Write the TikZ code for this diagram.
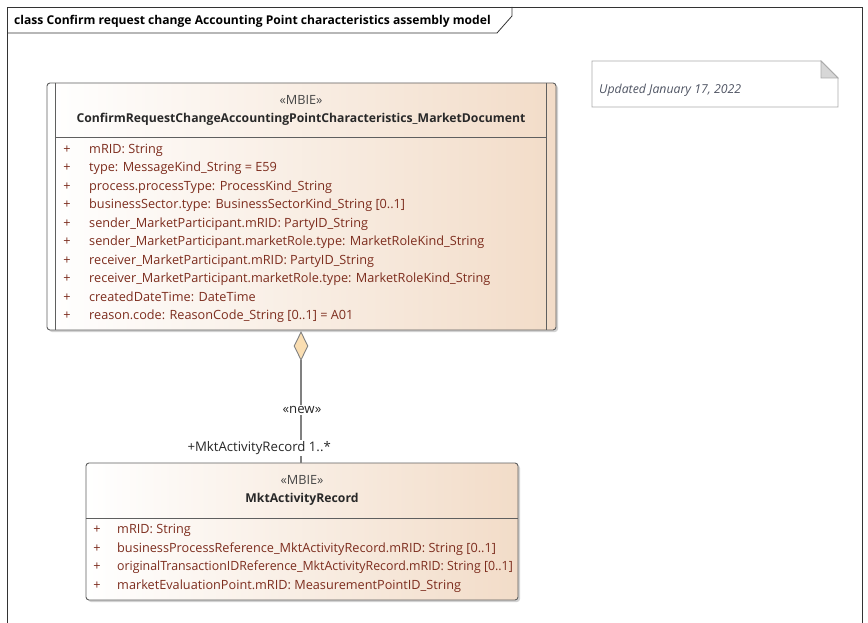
\documentclass[tikz,border=0pt]{standalone}
\usepackage{fontspec}
\setmainfont{Open Sans}
\usetikzlibrary{shapes.geometric,shadows}
\definecolor{attrcol}{RGB}{125,45,30}
\definecolor{stereocol}{RGB}{70,70,70}
\definecolor{namecol}{RGB}{40,40,40}
\definecolor{boxfillr}{RGB}{242,220,200}
\definecolor{boxline}{RGB}{95,95,95}
\definecolor{linkcol}{RGB}{128,128,128}
\definecolor{diafill}{RGB}{250,222,178}
\definecolor{notecol}{RGB}{80,85,100}
\definecolor{noteline}{RGB}{170,170,170}
\definecolor{foldcol}{RGB}{215,215,215}
\newcommand{\mainsz}{\fontsize{12.7}{15}\selectfont}
\tikzset{
  classbox/.style={draw=boxline, line width=0.9pt, rounded corners=3pt, left color=white, right color=boxfillr, drop shadow={shadow xshift=2pt, shadow yshift=-2pt, opacity=0.35}, inner sep=0},
  sepline/.style={draw=boxline, line width=0.7pt},
  attrtxt/.style={anchor=base west, text=attrcol, font=\mainsz, inner sep=0},
  plustxt/.style={anchor=base, text=attrcol, font=\mainsz, inner sep=0},
  stereotxt/.style={anchor=base, text=stereocol, font=\mainsz, inner sep=0},
  nametxt/.style={anchor=base, text=namecol, font=\bfseries\fontsize{12.2}{15}\selectfont, inner sep=0},
  linklabel/.style={fill=white, text=namecol, font=\fontsize{13.2}{15}\selectfont, inner sep=1pt},
}
\begin{document}
\begin{tikzpicture}[x=1pt,y=-1pt]
\useasboundingbox (0,0) rectangle (868,623);
\fill[white] (0,0) rectangle (868,623);
% frame
\draw[line width=0.8pt, black!80] (7,623) -- (7,7) -- (862,7) -- (862,623);
\draw[line width=0.8pt, black!80] (7,33) -- (497,33) -- (512,16) -- (512,7);
\node[anchor=base west, inner sep=0, font=\bfseries\fontsize{12.1}{14}\selectfont, text=black] (title) at (14,24.5) {class Confirm request change Accounting Point characteristics assembly model};

% note
\draw[noteline, fill=white, line width=0.8pt] (592,61) -- (821,61) -- (838,78) -- (838,107) -- (592,107) -- cycle;
\draw[noteline, fill=foldcol, line width=0.8pt] (821,61) -- (821,78) -- (838,78) -- cycle;
\node[anchor=base west, inner sep=0, text=notecol, font=\itshape\fontsize{12.3}{14}\selectfont] (notetext) at (599,93.5) {Updated January 17, 2022};

% box 1
\node[classbox, minimum width=509pt, minimum height=247pt] (doc) at (301.5,206.5) {};
\draw[sepline] (55,83) -- (55,330);
\draw[sepline] (546,83) -- (546,330);
\draw[sepline] (55,137) -- (546,137);
\node[stereotxt] (docst) at (301,104.5) {«MBIE»};
\node[nametxt] (docname) at (301,122.5) {ConfirmRequestChangeAccountingPointCharacteristics\_MarketDocument};
\foreach \t [count=\i from 0] in {
  {mRID: String},
  {type: MessageKind\_String = E59},
  {process.processType: ProcessKind\_String},
  {businessSector.type: BusinessSectorKind\_String [0..1]},
  {sender\_MarketParticipant.mRID: PartyID\_String},
  {sender\_MarketParticipant.marketRole.type: MarketRoleKind\_String},
  {receiver\_MarketParticipant.mRID: PartyID\_String},
  {receiver\_MarketParticipant.marketRole.type: MarketRoleKind\_String},
  {createdDateTime: DateTime},
  {reason.code: ReasonCode\_String [0..1] = A01}} {
  \node[plustxt] (dp\i) at (67,153.5+18.45*\i) {+};
  \node[attrtxt] (da\i) at (89,153.5+18.45*\i) {\t};
}

% box 2
\node[classbox, minimum width=432pt, minimum height=137pt] (rec) at (302,531.5) {};
\draw[sepline] (86,518) -- (518,518);
\node[stereotxt] (recst) at (302,484.5) {«MBIE»};
\node[nametxt] (recname) at (302,502.5) {MktActivityRecord};
\foreach \t [count=\i from 0] in {
  {mRID: String},
  {businessProcessReference\_MktActivityRecord.mRID: String [0..1]},
  {\scalebox{0.972}[1]{originalTransactionIDReference\_MktActivityRecord.mRID: String [0..1]}},
  {marketEvaluationPoint.mRID: MeasurementPointID\_String}} {
  \node[plustxt] (rp\i) at (97,533.5+18.6*\i) {+};
  \node[attrtxt] (ra\i) at (117,533.5+18.6*\i) {\t};
}

% aggregation
\node[diamond, draw=linkcol, fill=diafill, line width=0.9pt, minimum width=14pt, minimum height=28pt, inner sep=0] (dia) at (301,346) {};
\draw[linkcol, line width=1.5pt] (dia.south) -- (dia.south |- rec.north);
\node[linklabel] (newlbl) at (302,410) {«new»};
\node[linklabel, anchor=east] (rolelbl) at (332,448) {+MktActivityRecord 1..*};
\end{tikzpicture}
\end{document}
